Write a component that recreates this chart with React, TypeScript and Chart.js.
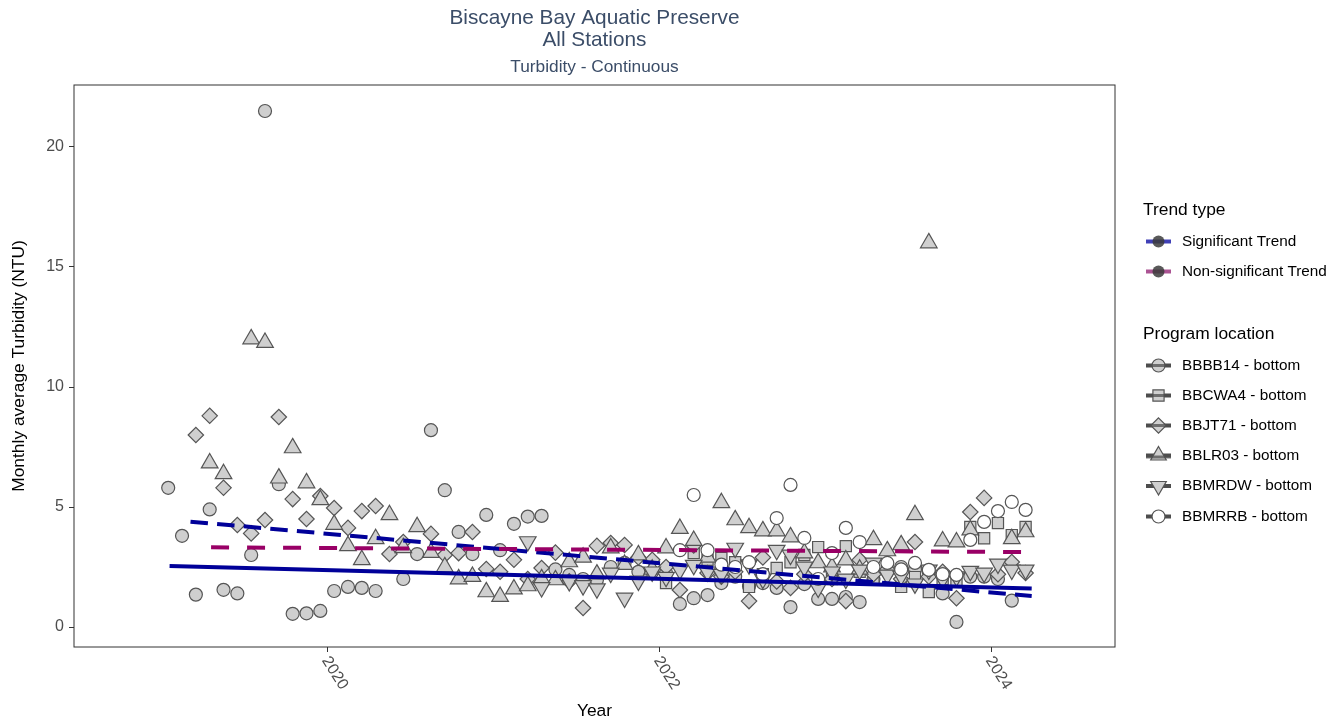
import React, { useEffect, useRef } from 'react';
import { Chart, registerables } from 'chart.js';

Chart.register(...registerables);

const FONT = '"Liberation Sans", Arial, Helvetica, sans-serif';

// Monthly observations, January 2019 .. March 2024 (index 0 = Jan 2019)
const FIRST_YEAR = 2019;
const N_MONTHS = 63;
const monthX: number[] = Array.from({ length: N_MONTHS }, (_, i) => FIRST_YEAR + (i + 0.5) / 12);

const pad = (n: number, arr: (number | null)[]) => (Array(n).fill(null) as (number | null)[]).concat(arr);

const BBBB14: (number | null)[] = [
  5.8, 3.8, 1.35, 4.9, 1.55, 1.4, 3.0, 21.5, 5.95, 0.55, 0.57, 0.67,
  1.5, 1.67, 1.63, 1.5, null, 2.0, 3.04, 8.2, 5.7, 3.96, 3.04, 4.67,
  3.2, 4.3, 4.6, 4.63, 2.4, 2.17, 2.0, 1.96, 2.5, 2.67, 2.3, 2.3,
  2.25, 0.96, 1.2, 1.33, 1.83, 2.1, 1.7, 1.83, 1.63, 0.83, 1.79, 1.17,
  1.17, 1.25, 1.04, 2.0, 2.3, 2.5, 2.4, 2.3, 1.4, 0.21, 2.1, 2.1,
  2.0, 1.1, null,
];
const BBCWA4 = pad(36, [
  1.83, null, 3.08, 2.8, 2.88, 2.7, 1.67, 2.2, 2.46, 2.7, 3.0, 3.33,
  2.0, 3.37, 2.3, 2.0, 2.5, 1.67, 2.08, 1.46, 2.0, 1.9, 4.17, 3.7,
  4.33, 3.83, 4.17,
]);
const BBJT71: (number | null)[] = [
  null, null, 8.0, 8.8, 5.8, 4.25, 3.9, 4.46, 8.75, 5.33, 4.5, 5.46,
  4.96, 4.13, 4.83, 5.04, 3.04, 3.54, null, 3.88, 3.0, 3.08, 3.96, 2.42,
  2.3, 2.8, 2.0, 2.46, 3.1, 1.9, 0.79, 3.38, 3.5, 3.42, 2.9, 2.8,
  2.5, 1.54, 3.4, 2.25, 2.1, 2.3, 1.08, 2.9, 1.9, 1.63, 2.2, 1.9,
  2.0, 1.08, 2.8, 2.2, 2.4, 2.0, 3.54, 2.1, 2.3, 1.2, 4.79, 5.38,
  2.2, 2.71, 2.25,
];
const BBLR03: (number | null)[] = [
  null, null, null, 6.83, 6.38, null, 12.0, 11.85, 6.2, 7.46, 6.0, 5.3,
  4.27, 3.38, 2.8, 3.67, 4.67, 3.3, 4.17, 3.1, 2.5, 2.0, 2.1, 1.46,
  1.27, 1.58, 1.71, 2.0, 1.96, 2.71, 2.9, 2.2, 3.29, 2.6, 3.0, 2.4,
  3.29, 4.1, 3.6, 2.9, 5.17, 4.46, 4.13, 4.0, 4.0, 3.75, 3.08, 2.67,
  2.5, 2.79, 2.4, 3.63, 3.17, 3.42, 4.67, 16.0, 3.58, 3.54, 4.04, null,
  null, 3.67, 3.96,
];
const BBMRDW = pad(26, [
  3.56, 1.65, null, 1.9, 1.73, 1.6, 2.25, 1.21, 1.92, 2.3,
  2.08, 2.38, 2.58, 2.3, 2.2, 3.29, 2.6, 2.0, 3.2, 3.0, 2.5, 1.63,
  2.3, 2.0, 2.38, 2.67, 2.17, 2.13, 1.8, 2.38, 2.0, 2.1, 2.33, 2.25,
  2.63, 2.38, 2.38,
]);
const BBMRRB = pad(37, [
  3.2, 5.5, 3.2, 2.6, 2.5, 2.7, 2.2, 4.54, 5.92, 3.71, 2.0,
  3.08, 4.13, 3.54, 2.5, 2.67, 2.4, 2.67, 2.38, 2.2, 2.17, 3.63, 4.38,
  4.83, 5.21, 4.88,
]);

// Trend lines: [start, end] in decimal years and NTU
const sigSolidX = [2019.05, 2024.245];
const sigSolidY = [2.54, 1.6];
const sigDashX = [2019.176, 2024.245];
const sigDashY = [4.39, 1.29];
const nonSigX = [2019.3, 2024.245];
const nonSigY = [3.32, 3.12];

const xTicks = [2020, 2022, 2024];
const yTicks = [0, 5, 10, 15, 20];

const SERIES = [
  { name: 'BBBB14 - bottom', values: BBBB14, style: 'circle', r: 6.5, rot: 0, fill: '#cfcfcf' },
  { name: 'BBCWA4 - bottom', values: BBCWA4, style: 'rect', r: 7.9, rot: 0, fill: '#cfcfcf' },
  { name: 'BBJT71 - bottom', values: BBJT71, style: 'rectRot', r: 7.7, rot: 0, fill: '#cfcfcf' },
  { name: 'BBLR03 - bottom', values: BBLR03, style: 'triangle', r: 9.6, rot: 0, fill: '#cfcfcf' },
  { name: 'BBMRDW - bottom', values: BBMRDW, style: 'triangle', r: 9.6, rot: 180, fill: '#cfcfcf' },
  { name: 'BBMRRB - bottom', values: BBMRRB, style: 'circle', r: 6.5, rot: 0, fill: '#ffffff' },
];

const TRENDS = [
  { xs: sigSolidX, ys: sigSolidY, color: '#000099', dash: [] as number[] },
  { xs: sigDashX, ys: sigDashY, color: '#000099', dash: [17.5, 9.2] },
  { xs: nonSigX, ys: nonSigY, color: '#990066', dash: [18, 18] },
];

const STROKE = '#555555';

function shapePath(ctx: CanvasRenderingContext2D, style: string, x: number, y: number, r: number, rot: number) {
  ctx.beginPath();
  if (style === 'circle') {
    ctx.arc(x, y, r, 0, Math.PI * 2);
  } else if (style === 'rect') {
    const s = Math.SQRT1_2 * r;
    ctx.rect(x - s, y - s, 2 * s, 2 * s);
  } else if (style === 'rectRot') {
    ctx.moveTo(x, y - r);
    ctx.lineTo(x + r, y);
    ctx.lineTo(x, y + r);
    ctx.lineTo(x - r, y);
  } else if (style === 'triangle') {
    let a = (rot * Math.PI) / 180;
    for (let i = 0; i < 3; i++) {
      const px = x + Math.sin(a) * r;
      const py = y - Math.cos(a) * r;
      if (i === 0) ctx.moveTo(px, py);
      else ctx.lineTo(px, py);
      a += (2 * Math.PI) / 3;
    }
  }
  ctx.closePath();
}

const decorPlugin = {
  id: 'decor',
  afterDatasetsDraw(chart: any) {
    const ctx: CanvasRenderingContext2D = chart.ctx;
    const xs = chart.scales.x;
    const ys = chart.scales.y;
    ctx.save();
    ctx.lineWidth = 4;
    ctx.lineCap = 'butt';
    TRENDS.forEach((t) => {
      ctx.strokeStyle = t.color;
      ctx.setLineDash(t.dash);
      ctx.beginPath();
      t.xs.forEach((x, i) => {
        const px = xs.getPixelForValue(x);
        const py = ys.getPixelForValue(t.ys[i]);
        if (i === 0) ctx.moveTo(px, py);
        else ctx.lineTo(px, py);
      });
      ctx.stroke();
    });
    ctx.setLineDash([]);
    ctx.restore();
  },
  afterDraw(chart: any) {
    const ctx: CanvasRenderingContext2D = chart.ctx;
    const a = chart.chartArea;
    const xs = chart.scales.x;
    ctx.save();
    // panel border
    ctx.strokeStyle = '#333333';
    ctx.lineWidth = 1;
    ctx.strokeRect(a.left, a.top, a.right - a.left, a.bottom - a.top);

    const cx = (a.left + a.right) / 2;
    // titles
    ctx.fillStyle = '#3b4d68';
    ctx.textAlign = 'center';
    ctx.textBaseline = 'middle';
    ctx.font = `20.8px ${FONT}`;
    ctx.fillText('Biscayne Bay Aquatic Preserve', cx, 18);
    ctx.fillText('All Stations', cx, 40);
    ctx.font = `17.3px ${FONT}`;
    ctx.fillText('Turbidity - Continuous', cx, 67);

    // axis titles
    ctx.fillStyle = '#000000';
    ctx.font = `17.4px ${FONT}`;
    ctx.fillText('Year', cx, 711);
    ctx.save();
    ctx.translate(19, (a.top + a.bottom) / 2);
    ctx.rotate(-Math.PI / 2);
    ctx.fillText('Monthly average Turbidity (NTU)', 0, 0);
    ctx.restore();

    // x tick labels, rotated
    ctx.fillStyle = '#4d4d4d';
    ctx.font = `16px ${FONT}`;
    ctx.textAlign = 'left';
    ctx.textBaseline = 'middle';
    xTicks.forEach((v) => {
      const px = xs.getPixelForValue(v);
      ctx.save();
      ctx.translate(px - 2, a.bottom + 11);
      ctx.rotate((58 * Math.PI) / 180);
      ctx.fillText(String(v), 0, 0);
      ctx.restore();
    });

    // legend
    const lx = 1143;
    ctx.fillStyle = '#000000';
    ctx.textAlign = 'left';
    ctx.textBaseline = 'middle';
    ctx.font = `17.4px ${FONT}`;
    ctx.fillText('Trend type', lx, 210);
    ctx.fillText('Program location', lx, 334);

    ctx.font = `15.3px ${FONT}`;
    const trendItems = [
      { label: 'Significant Trend', color: 'rgba(30,30,170,0.85)', y: 241.5 },
      { label: 'Non-significant Trend', color: 'rgba(150,40,120,0.8)', y: 271.5 },
    ];
    trendItems.forEach((t) => {
      ctx.strokeStyle = t.color;
      ctx.lineWidth = 4;
      ctx.beginPath();
      ctx.moveTo(1146, t.y);
      ctx.lineTo(1171, t.y);
      ctx.stroke();
      ctx.fillStyle = 'rgba(60,60,60,0.85)';
      ctx.beginPath();
      ctx.arc(1158.5, t.y, 6, 0, Math.PI * 2);
      ctx.fill();
      ctx.fillStyle = '#000000';
      ctx.fillText(t.label, 1182, t.y);
    });

    const itemY = [365.5, 395.5, 425.5, 455.5, 486, 516.5];
    SERIES.forEach((s, i) => {
      const y = itemY[i];
      ctx.strokeStyle = '#4d4d4d';
      ctx.lineWidth = 4;
      ctx.beginPath();
      ctx.moveTo(1146, y);
      ctx.lineTo(1171, y);
      ctx.stroke();
      const r = s.style === 'triangle' ? 9 : s.r;
      shapePath(ctx, s.style, 1158.5, y, r, s.rot);
      ctx.fillStyle = s.fill;
      ctx.fill();
      ctx.lineWidth = 1.2;
      ctx.strokeStyle = STROKE;
      ctx.stroke();
      if (i < 4) {
        ctx.strokeStyle = 'rgba(77,77,77,0.75)';
        ctx.lineWidth = 3;
        ctx.beginPath();
        ctx.moveTo(1146, y + (s.style === 'triangle' ? 1.5 : 0));
        ctx.lineTo(1171, y + (s.style === 'triangle' ? 1.5 : 0));
        ctx.stroke();
      }
      ctx.fillStyle = '#000000';
      ctx.fillText(s.name, 1182, y);
    });
    ctx.restore();
  },
};

export default function App() {
  const ref = useRef<HTMLCanvasElement | null>(null);
  useEffect(() => {
    document.body.style.margin = '0';
    const canvas = ref.current;
    if (!canvas) return;

    const pointSets = SERIES.map((s, idx) => ({
      type: 'scatter' as const,
      label: s.name,
      data: monthX
        .map((x, i) => ({ x, y: s.values[i] }))
        .filter((p) => p.y !== null && p.y !== undefined),
      pointStyle: s.style,
      pointRotation: s.rot,
      pointRadius: s.r,
      pointBackgroundColor: s.fill,
      pointBorderColor: STROKE,
      pointBorderWidth: 1.2,
      showLine: false,
      order: 6 - idx,
    }));

    const chart = new Chart(canvas, {
      type: 'scatter',
      data: { datasets: pointSets as any },
      options: {
        responsive: false,
        animation: false,
        devicePixelRatio: 1,
        layout: { padding: { left: 0, top: 85, right: 225, bottom: 0 } },
        plugins: {
          legend: { display: false },
          title: { display: false },
          tooltip: { enabled: false },
        },
        scales: {
          x: {
            type: 'linear',
            min: 2018.474,
            max: 2024.747,
            afterBuildTicks: (s: any) => {
              s.ticks = xTicks.map((v) => ({ value: v }));
            },
            afterFit: (s: any) => {
              s.height = 76;
            },
            ticks: { display: false },
            grid: { display: true, drawOnChartArea: false, tickLength: 5, color: '#333333', lineWidth: 1 },
            border: { display: false },
          },
          y: {
            type: 'linear',
            min: -0.833,
            max: 22.583,
            afterBuildTicks: (s: any) => {
              s.ticks = yTicks.map((v) => ({ value: v }));
            },
            afterFit: (s: any) => {
              s.width = 74;
            },
            ticks: {
              color: '#4d4d4d',
              font: { size: 16, family: FONT },
              padding: 5,
            },
            grid: { display: true, drawOnChartArea: false, tickLength: 5, color: '#333333', lineWidth: 1 },
            border: { display: false },
          },
        },
      },
      plugins: [decorPlugin],
    } as any);
    return () => chart.destroy();
  }, []);

  return (
    <canvas
      ref={ref}
      width={1340}
      height={723}
      style={{ display: 'block', width: 1340, height: 723 }}
    />
  );
}
